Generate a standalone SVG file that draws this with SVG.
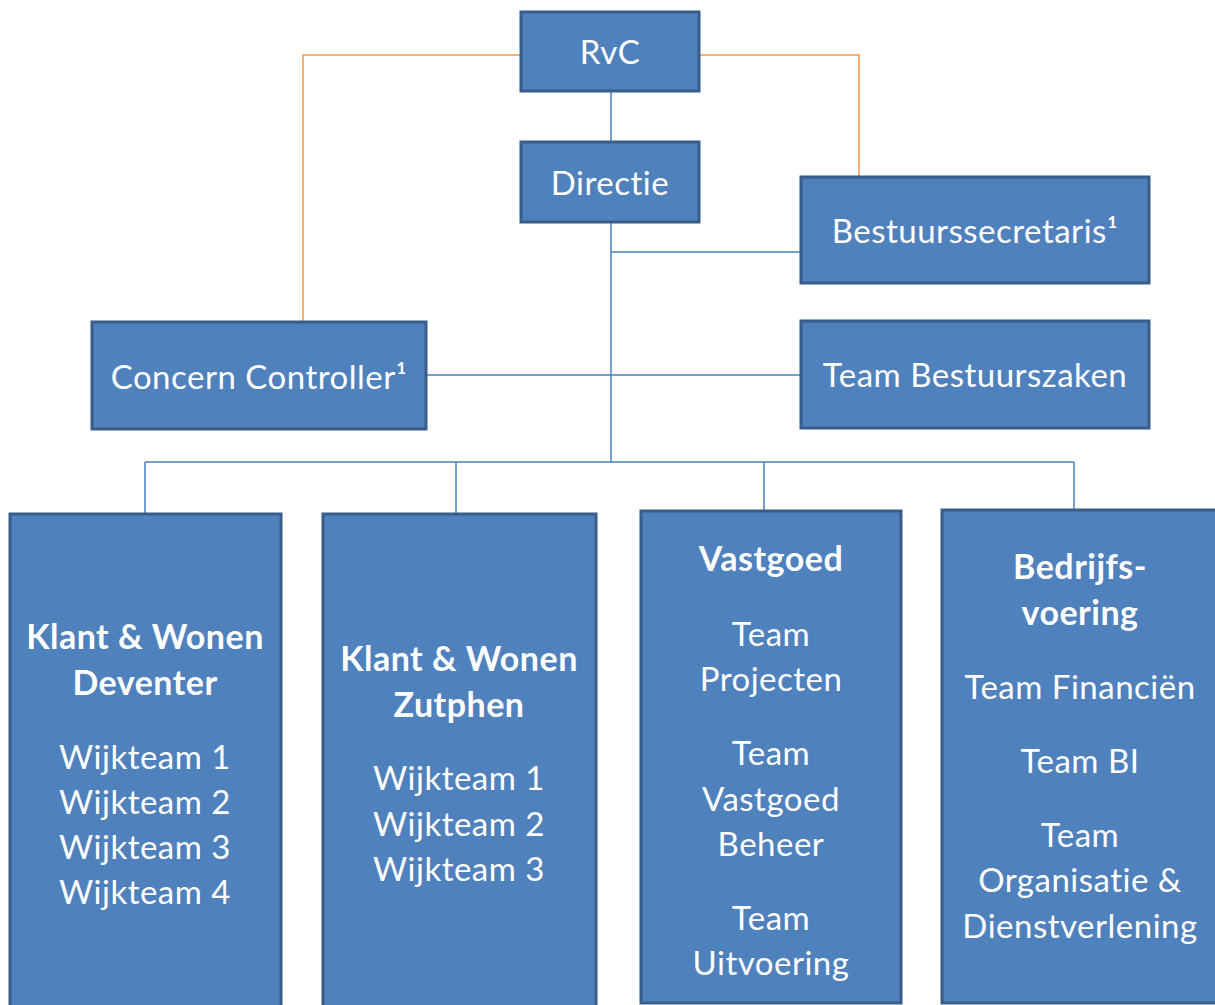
<svg xmlns="http://www.w3.org/2000/svg" width="1215" height="1005" viewBox="0 0 1215 1005">
<style>
.box{fill:#4f81bd;stroke:#385d8a;stroke-width:3}
.t{font-family:Lato,"Liberation Sans",sans-serif;font-size:33px;letter-spacing:0.5px;fill:#fff;text-anchor:middle}
.b{font-weight:bold;font-size:34px}
.cb{stroke:#4a7ebb;stroke-width:1.5;fill:none}
.co{stroke:#f79646;stroke-width:1.5;fill:none}
</style>
<rect width="1215" height="1005" fill="#fff"/>
<g id="connectors">
<path class="co" d="M521,55 H303 V322"/>
<path class="co" d="M699,55 H859 V177"/>
<path class="cb" d="M611,91 V142"/>
<path class="cb" d="M611,222 V462"/>
<path class="cb" d="M611,252 H801"/>
<path class="cb" d="M426,375 H801"/>
<path class="cb" d="M145,462 H1074"/>
<path class="cb" d="M145,462 V514"/>
<path class="cb" d="M456,462 V514"/>
<path class="cb" d="M764,462 V511"/>
<path class="cb" d="M1074,462 V510"/>
</g>
<g id="rvc"><rect class="box" x="521" y="12" width="178" height="79"/><text class="t" x="610" y="64">RvC</text></g>
<g id="directie"><rect class="box" x="521" y="142" width="178" height="80"/><text class="t" x="610" y="195">Directie</text></g>
<g id="bestuurssecretaris"><rect class="box" x="801" y="177" width="348" height="106"/><text class="t" x="975" y="243">Bestuurssecretaris¹</text></g>
<g id="team-bestuurszaken"><rect class="box" x="801" y="321" width="348" height="107"/><text class="t" x="975" y="387">Team Bestuurszaken</text></g>
<g id="concern-controller"><rect class="box" x="92" y="322" width="334" height="107"/><text class="t" x="259" y="389">Concern Controller¹</text></g>
<g id="klant-wonen-deventer"><rect class="box" x="10" y="514" width="271" height="500"/>
<text class="t b" x="145" y="649">Klant &amp; Wonen</text>
<text class="t b" x="145" y="695">Deventer</text>
<text class="t" x="145" y="769">Wijkteam 1</text>
<text class="t" x="145" y="814">Wijkteam 2</text>
<text class="t" x="145" y="859">Wijkteam 3</text>
<text class="t" x="145" y="904">Wijkteam 4</text>
</g>
<g id="klant-wonen-zutphen"><rect class="box" x="323" y="514" width="273" height="500"/>
<text class="t b" x="459" y="671">Klant &amp; Wonen</text>
<text class="t b" x="459" y="717">Zutphen</text>
<text class="t" x="459" y="790">Wijkteam 1</text>
<text class="t" x="459" y="836">Wijkteam 2</text>
<text class="t" x="459" y="881">Wijkteam 3</text>
</g>
<g id="vastgoed"><rect class="box" x="641" y="511" width="260" height="492"/>
<text class="t b" x="771" y="571">Vastgoed</text>
<text class="t" x="771" y="646">Team</text>
<text class="t" x="771" y="691">Projecten</text>
<text class="t" x="771" y="765">Team</text>
<text class="t" x="771" y="811">Vastgoed</text>
<text class="t" x="771" y="856">Beheer</text>
<text class="t" x="771" y="930">Team</text>
<text class="t" x="771" y="975">Uitvoering</text>
</g>
<g id="bedrijfsvoering"><rect class="box" x="942" y="510" width="275" height="493"/>
<text class="t b" x="1080" y="579">Bedrijfs-</text>
<text class="t b" x="1080" y="625">voering</text>
<text class="t" x="1080" y="699">Team Financiën</text>
<text class="t" x="1080" y="773">Team BI</text>
<text class="t" x="1080" y="847">Team</text>
<text class="t" x="1080" y="892">Organisatie &amp;</text>
<text class="t" x="1080" y="938">Dienstverlening</text>
</g>
</svg>
